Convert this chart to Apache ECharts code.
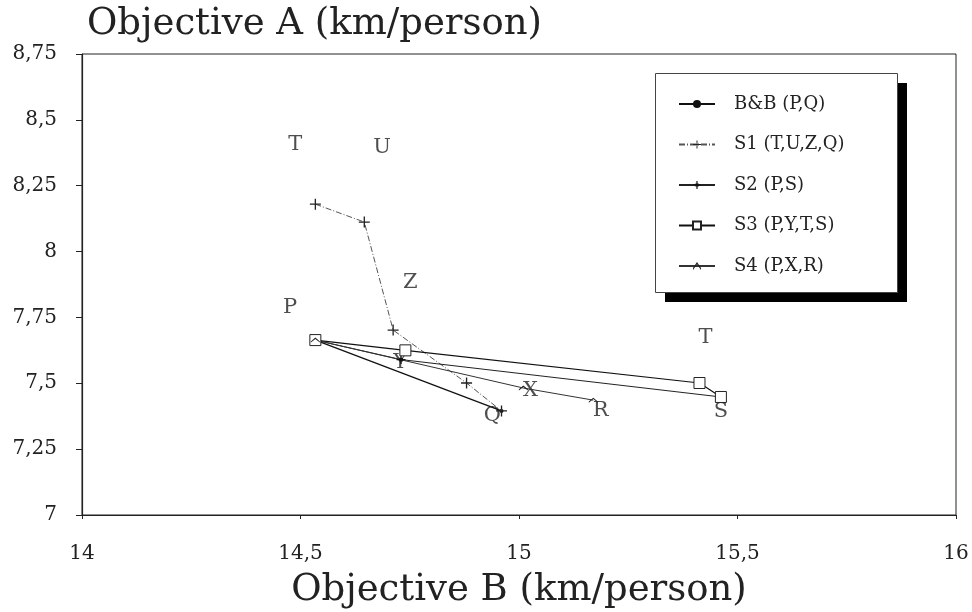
<!DOCTYPE html>
<html>
<head>
<meta charset="utf-8">
<script src="https://cdn.jsdelivr.net/npm/echarts@6/dist/echarts.min.js"></script>
<style>html,body{margin:0;padding:0;background:#fff}#c{width:972px;height:612px}</style>
</head>
<body>
<div id="c"></div>
<script>
// Data (Objective B, Objective A)
const seriesNames = ['B&B (P,Q)', 'S1 (T,U,Z,Q)', 'S2 (P,S)', 'S3 (P,Y,T,S)', 'S4 (P,X,R)'];
const bbData = [[14.534, 7.664], [14.96, 7.395]];
const s1Data = [[14.534, 8.18], [14.646, 8.112], [14.712, 7.702], [14.88, 7.501], [14.96, 7.395]];
const s2Data = [[14.534, 7.664], [14.73, 7.59], [15.462, 7.448]];
const s3Data = [[14.534, 7.664], [14.74, 7.625], [15.413, 7.501], [15.462, 7.448]];
const s4Data = [[14.534, 7.664], [15.01, 7.482], [15.17, 7.436]];
const pointLabels = [
  ['T', 14.488, 8.405], ['U', 14.687, 8.393], ['Z', 14.751, 7.884], ['P', 14.476, 7.786],
  ['Y', 14.728, 7.577], ['X', 15.026, 7.474], ['Q', 14.939, 7.376], ['R', 15.187, 7.398],
  ['T', 15.427, 7.672], ['S', 15.462, 7.391]
];
const xTickValues = [14, 14.5, 15, 15.5, 16];
const yTickValues = [7, 7.25, 7.5, 7.75, 8, 8.25, 8.5, 8.75];

const FONT = 'DejaVu Serif';
const plusPath = 'path://M-0.6,-5h1.2v10h-1.2zM-5,-0.6h10v1.2h-10z';
const plusDotPath = 'path://M-0.6,-4h1.2v8h-1.2zM-4,-0.6h8v1.2h-8zM-1.6,-1.6h3.2v3.2h-3.2z';
const caretPath = 'path://M-4,1.2L0,-2L4,1.2L4,2.2L0,-0.8L-4,2.2z';
const comma = v => String(v).replace('.', ',');

const chart = echarts.init(document.getElementById('c'), null, {renderer: 'canvas'});
chart.setOption({
  backgroundColor: '#fff',
  animation: false,
  title: {
    text: 'Objective A (km/person)', left: 82, top: 1,
    textStyle: {fontFamily: FONT, fontSize: 37, fontWeight: 'normal', color: '#222'}
  },
  graphic: [
    {type: 'rect', left: 665, top: 83, z: 1, shape: {width: 242, height: 219}, style: {fill: '#000'}},
    {type: 'rect', left: 655, top: 73, z: 2, shape: {width: 242, height: 219}, style: {fill: '#fff', stroke: '#444', lineWidth: 1}}
  ],
  grid: {left: 82, right: 16, top: 54, bottom: 97, show: true, borderColor: '#222', borderWidth: 1,
    backgroundColor: 'transparent', outerBoundsMode: 'none', containLabel: false},
  xAxis: {
    type: 'value', min: 14, max: 16, interval: 0.5,
    name: 'Objective B (km/person)', nameLocation: 'middle', nameGap: 57,
    nameTextStyle: {fontFamily: FONT, fontSize: 37, color: '#222'},
    axisLine: {lineStyle: {color: '#222', width: 1.2}},
    axisTick: {length: 4, lineStyle: {color: '#222'}},
    axisLabel: {fontFamily: FONT, fontSize: 20, color: '#222', margin: 29,
      formatter: v => xTickValues.includes(v) ? comma(v) : ''},
    splitLine: {show: false}
  },
  yAxis: {
    type: 'value', min: 7, max: 8.75, interval: 0.25,
    axisLine: {show: true, lineStyle: {color: '#222', width: 1.2}},
    axisTick: {show: true, length: 6, lineStyle: {color: '#222'}},
    axisLabel: {fontFamily: FONT, fontSize: 20, color: '#222', margin: 25,
      formatter: v => yTickValues.includes(v) ? comma(v) : ''},
    splitLine: {show: false}
  },
  legend: {
    data: seriesNames, orient: 'vertical', left: 655, top: 73, z: 10,
    padding: [22, 20, 20, 23], itemGap: 22.5, itemWidth: 36, itemHeight: 10,
    textStyle: {fontFamily: FONT, fontSize: 18, color: '#222', padding: [0, 0, 0, 14]}
  },
  series: [
    {name: seriesNames[0], type: 'line', data: bbData, symbol: 'circle', symbolSize: 4,
      lineStyle: {color: '#111', width: 1.3}, itemStyle: {color: '#111'}},
    {name: seriesNames[1], type: 'line', data: s1Data, symbol: plusPath, symbolSize: 11,
      lineStyle: {color: '#555', width: 1, type: [6, 2, 1, 2]}, itemStyle: {color: '#222'}},
    {name: seriesNames[2], type: 'line', data: s2Data, symbol: plusDotPath, symbolSize: 9,
      lineStyle: {color: '#222', width: 1}, itemStyle: {color: '#111'}},
    {name: seriesNames[3], type: 'line', data: s3Data, symbol: 'rect', symbolSize: 11,
      lineStyle: {color: '#111', width: 1.2}, itemStyle: {color: '#fff', borderColor: '#222', borderWidth: 1}},
    {name: seriesNames[4], type: 'line', data: s4Data, symbol: caretPath, symbolSize: [9, 5],
      lineStyle: {color: '#333', width: 1}, itemStyle: {color: '#222'}},
    {name: 'labels', type: 'scatter', symbolSize: 0, silent: true,
      data: pointLabels.map(p => ({name: p[0], value: [p[1], p[2]]})),
      label: {show: true, position: 'inside', formatter: '{b}', fontFamily: FONT, fontSize: 21, color: '#222'}}
  ]
});
</script>
</body>
</html>
